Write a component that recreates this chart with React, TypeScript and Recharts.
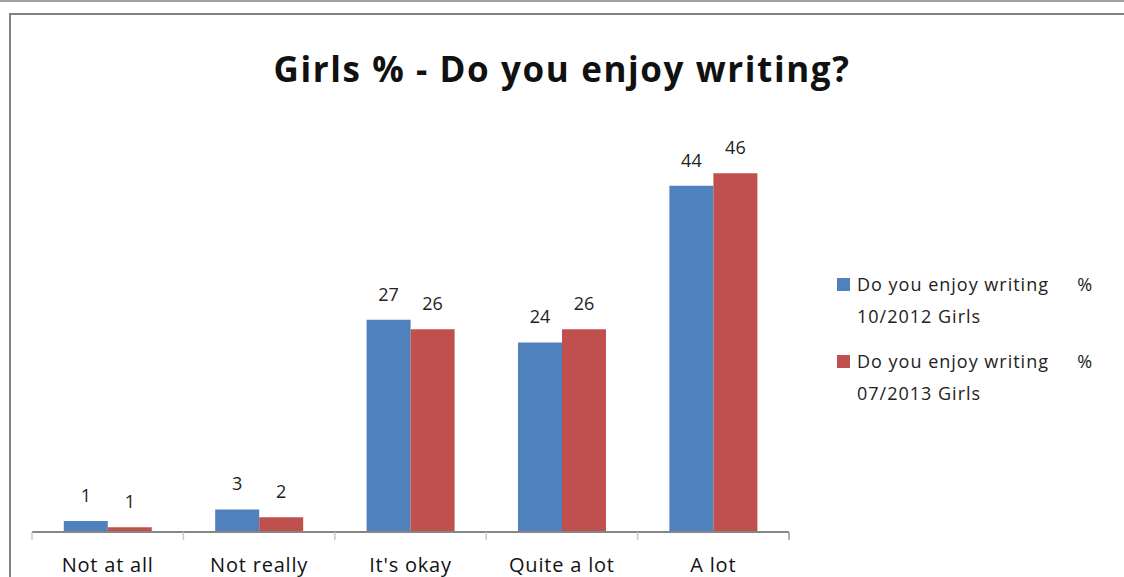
import { BarChart, Bar, XAxis, YAxis, LabelList } from 'recharts';

const categories = ['Not at all', 'Not really', "It's okay", 'Quite a lot', 'A lot'];
const girls2012 = [1.4, 2.9, 27.2, 24.3, 44.4];
const girls2013 = [0.6, 1.9, 26, 26, 46];
const seriesNames = ['Do you enjoy writing  % 10/2012 Girls', 'Do you enjoy writing  % 07/2013 Girls'];

const COLORS = {
  y2012: '#4F81BD',
  y2013: '#C0504D',
};

const FONT = '"Open Sans", "Noto Sans", sans-serif';

const data = categories.map((name, i) => ({
  name,
  a: girls2012[i],
  b: girls2013[i],
}));

const BAND = (789 - 32) / categories.length;

const CategoryTick = (props: any) => {
  const { x, y, payload, index } = props;
  const last = index === categories.length - 1;
  return (
    <g>
      <line x1={x - BAND / 2} x2={x - BAND / 2} y1={y - 8} y2={y} stroke="#c8c8c8" strokeWidth={1.5} />
      {last && <line x1={x + BAND / 2} x2={x + BAND / 2} y1={y - 8} y2={y} stroke="#9a9a9a" strokeWidth={1.5} />}
      <text x={x} y={y + 32} textAnchor="middle" fontFamily={FONT} fontSize={20} letterSpacing={0.8} fill="#111">
        {payload.value}
      </text>
    </g>
  );
};

const ChartLegend = () => {
  const colors = [COLORS.y2012, COLORS.y2013];
  return (
    <div
      style={{
        position: 'absolute',
        left: 837,
        top: 268,
        fontFamily: FONT,
        fontSize: 18,
        letterSpacing: 1,
        color: '#222',
      }}
    >
      {seriesNames.map((n, i) => {
        const parts = n.split(' % ');
        return (
          <div key={i} style={{ display: 'flex', alignItems: 'flex-start', marginBottom: 13, lineHeight: '32px' }}>
            <div style={{ width: 13, height: 13, background: colors[i], marginTop: 10, marginRight: 7 }} />
            <div>
              <div style={{ whiteSpace: 'pre' }}>{parts[0] + '    %'}</div>
              <div>{parts[1]}</div>
            </div>
          </div>
        );
      })}
    </div>
  );
};

const fmt = (v: any) => Math.round(Number(v));

export default function App() {
  return (
    <div style={{ position: 'fixed', left: 0, top: 0, width: 1124, height: 577, background: '#fff', overflow: 'hidden' }}>
      <div style={{ position: 'absolute', left: 0, top: 0, width: 1124, height: 2, background: '#a0a0a0' }} />
      <div
        style={{
          position: 'absolute',
          left: 9,
          top: 13,
          width: 1200,
          height: 700,
          borderTop: '2px solid #828282',
          borderLeft: '2px solid #828282',
        }}
      />
      <div
        style={{
          position: 'absolute',
          left: 0,
          width: 1124,
          top: 45,
          textAlign: 'center',
          fontFamily: FONT,
          fontWeight: 700,
          fontSize: 35,
          letterSpacing: 1.6,
          color: '#111',
        }}
      >
        Girls % - Do you enjoy writing?
      </div>
      <div style={{ position: 'absolute', left: 0, top: 0 }}>
        <BarChart
          width={1124}
          height={577}
          data={data}
          margin={{ top: 142, right: 335, bottom: 0, left: 32 }}
          barCategoryGap="21%"
          barGap={0}
        >
          <XAxis
            dataKey="name"
            height={45}
            axisLine={{ stroke: '#868686', strokeWidth: 2 }}
            tickLine={false}
            tick={<CategoryTick />}
            interval={0}
          />
          <YAxis hide domain={[0, 50]} />
          <Bar dataKey="a" name={seriesNames[0]} fill={COLORS.y2012} isAnimationActive={false}>
            <LabelList dataKey="a" position="top" offset={19} formatter={fmt} fontFamily={FONT} fontSize={18} fill="#222" />
          </Bar>
          <Bar dataKey="b" name={seriesNames[1]} fill={COLORS.y2013} isAnimationActive={false}>
            <LabelList dataKey="b" position="top" offset={19} formatter={fmt} fontFamily={FONT} fontSize={18} fill="#222" />
          </Bar>
        </BarChart>
      </div>
      <ChartLegend />
    </div>
  );
}
